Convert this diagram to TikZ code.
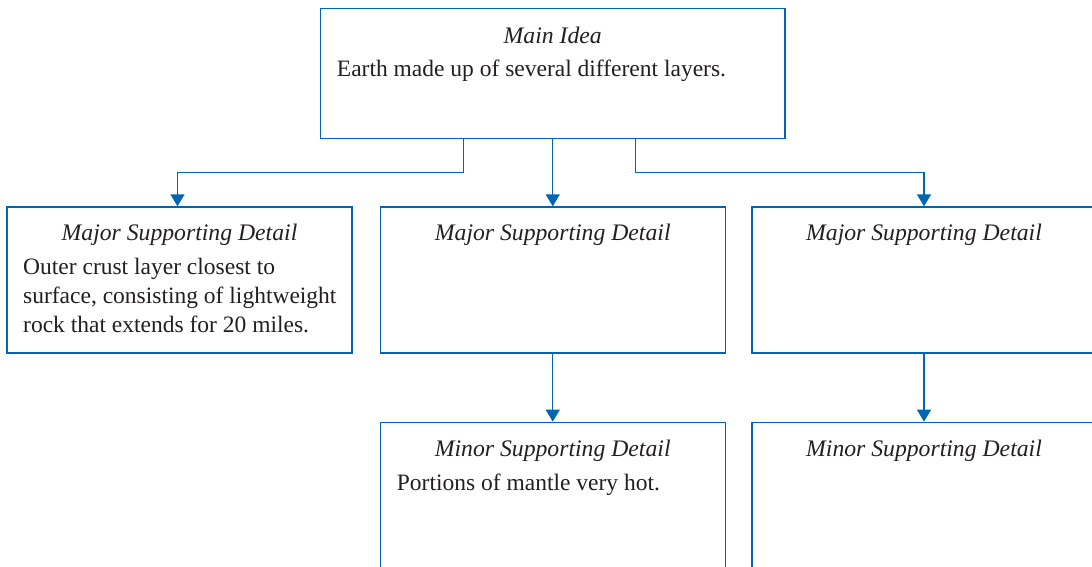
\documentclass[tikz,border=0pt]{standalone}
\usepackage{fontspec}
\setmainfont{Liberation Serif}
\usetikzlibrary{arrows.meta,calc}
\definecolor{flow}{RGB}{0,102,179}
\definecolor{ink}{RGB}{35,31,32}
\tikzset{
  box/.style={draw=flow, line width=1.3pt, inner sep=0pt,
              minimum width=345pt, minimum height=146pt},
  txt/.style={font=\fontsize{23.5}{29.2}\selectfont, text=ink, inner sep=0pt},
  head/.style={txt, font=\fontsize{23.7}{29.2}\selectfont\itshape, anchor=base},
  body/.style={txt, anchor=base west},
  link/.style={draw=flow, line width=1.3pt,
               -{Triangle[width=14pt,length=12pt]}}
}
\begin{document}
\begin{tikzpicture}[x=1pt,y=-1pt]
\useasboundingbox (0,0) rectangle (1092,567);
\clip (0,0) rectangle (1092,567);

% boxes
\node[box, minimum width=464.5pt, minimum height=130pt] (main) at (552.75,73.4) {};
\node[box] (maj1) at (179.5,280) {};
\node[box] (maj2) at (552.75,280) {};
\node[box, minimum width=344pt] (maj3) at (924,280) {};
\node[box, minimum height=160pt] (min2) at (552.75,502.3) {};
\node[box, minimum width=344pt, minimum height=160pt] (min3) at (924,502.3) {};

% texts
\node[head] (mainh) at (552.75,43.3) {Main Idea};
\node[body] (mainb) at (336.7,76.7) {Earth made up of several different layers.};

\node[head] (maj1h) at (179.5,240.7) {Major Supporting Detail};
\node[body] (maj1b) at (23,274.3) {\parbox[t]{325pt}{\raggedright
  Outer crust layer closest to\\
  surface, consisting of lightweight\\
  rock that extends for 20 miles.}};

\node[head] (maj2h) at (552.75,240.7) {Major Supporting Detail};
\node[head] (maj3h) at (924,240.7) {Major Supporting Detail};

\node[head] (min2h) at (552.75,456.7) {Minor Supporting Detail};
\node[body] (min2b) at (396.7,490) {Portions of mantle very hot.};
\node[head] (min3h) at (924,456.7) {Minor Supporting Detail};

% connectors
\coordinate (split) at (0,172.3);
\draw[link] ([xshift=-89.5pt]main.south) |- ([xshift=-2pt]split -| maj1.north) -- ([xshift=-2pt]maj1.north);
\draw[link] (main.south) -- (maj2.north);
\draw[link] ([xshift=83pt]main.south) |- (split -| maj3.north) -- (maj3.north);
\draw[link] (maj2.south) -- (min2.north);
\draw[link] (maj3.south) -- (min3.north);
\end{tikzpicture}
\end{document}
